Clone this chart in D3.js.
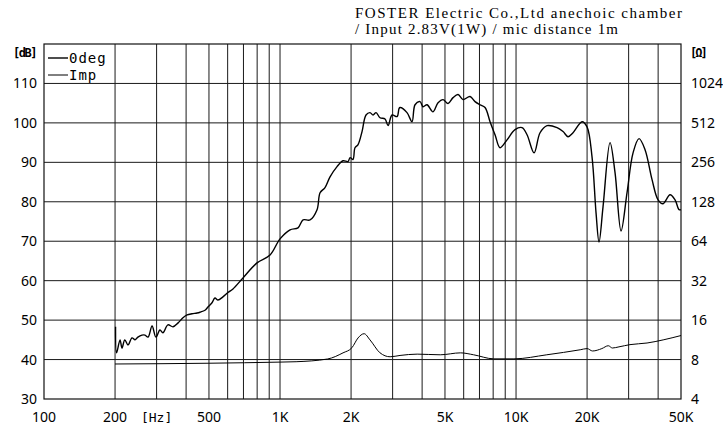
<!DOCTYPE html>
<html>
<head>
<meta charset="utf-8">
<script src="https://cdn.jsdelivr.net/npm/d3@7"></script>
<style>
  body { margin: 0; background: #fff; }
</style>
</head>
<body>
<div id="chart"></div>
<script>
// frequency response (0deg), Hz / dB
const respFreq = [201, 203, 210, 214, 220, 227, 236, 243, 250, 260, 268, 276, 287, 298, 310, 319, 335, 352, 370, 388, 404, 424, 445, 458, 481, 495, 515, 530, 546, 573, 602, 632, 697, 799, 907, 1000, 1103, 1192, 1252, 1340, 1435, 1478, 1551, 1629, 1744, 1849, 1941, 1981, 2038, 2078, 2141, 2226, 2314, 2406, 2479, 2552, 2653, 2786, 2869, 2983, 3132, 3193, 3225, 3452, 3625, 3733, 3920, 4036, 4197, 4448, 4672, 4906, 5151, 5409, 5679, 5963, 6385, 6704, 7039, 7391, 7760, 8147, 8555, 9160, 9903, 10603, 11134, 11923, 12641, 13537, 14922, 15822, 16612, 17441, 19044, 19990, 20989, 21827, 22474, 23366, 25019, 26272, 27858, 29537, 31319, 33204, 35207, 37699, 39970, 41973, 44930, 47179, 49059, 50000];
const respDb = [48.3, 41.7, 45, 42.9, 45, 43.7, 45.5, 45, 45.7, 46.2, 46.2, 45.7, 48.5, 45.7, 47.5, 46.8, 48.8, 48.3, 49.3, 50.6, 51.3, 51.6, 51.8, 52, 52.5, 53.3, 54.4, 55.6, 55.1, 55.9, 57, 57.9, 60.7, 64.5, 66.5, 70.6, 72.9, 73.4, 75.4, 75.4, 78, 82.3, 83.6, 86.3, 88.9, 90.4, 90.2, 91.2, 90.7, 93.7, 94.5, 97.8, 102, 102.6, 102, 102.6, 101.3, 101, 99.3, 102, 101.6, 103.6, 103.9, 102.6, 100.3, 104.6, 105.4, 104.1, 104.6, 102.8, 105.1, 105.9, 104.9, 106.4, 107.2, 105.9, 106.7, 105.4, 104.6, 103.9, 100.3, 97, 93.7, 95.7, 98.3, 98.8, 97, 92.4, 97.5, 99.3, 98.8, 97.8, 96.5, 97.5, 100.3, 99, 91.4, 77.2, 69.8, 78.7, 95, 87.4, 72.6, 82.3, 92.4, 96, 93.2, 85.6, 80.5, 79.5, 81.8, 80.5, 78, 78];

// impedance, Hz / ohm
const impFreq = [200, 500, 1000, 1170, 1590, 1849, 2017, 2141, 2271, 2406, 2653, 2926, 3225, 3812, 4774, 5819, 6610, 8046, 9800, 13500, 18700, 20000, 21100, 23100, 24600, 25600, 27300, 30400, 35900, 42000, 50000];
const impOhm = [7.4, 7.5, 7.65, 7.7, 8.08, 9.0, 9.85, 11.7, 12.6, 11.3, 9.0, 8.4, 8.6, 8.8, 8.7, 9.0, 8.7, 8.1, 8.1, 8.7, 9.5, 9.7, 9.3, 9.7, 10.2, 9.8, 10.0, 10.4, 10.7, 11.3, 12.2];

// axes ticks
const dbTicks = [30, 40, 50, 60, 70, 80, 90, 100, 110];
const ohmTicks = [4, 8, 16, 32, 64, 128, 256, 512, 1024];
const freqTicks = [100, 200, 500, 1000, 2000, 5000, 10000, 20000, 50000];
const freqLabels = ["100", "200", "500", "1K", "2K", "5K", "10K", "20K", "50K"];
const freqGrid = [200, 300, 400, 500, 600, 700, 800, 900, 1000, 2000, 3000, 4000, 5000, 6000, 7000, 8000, 9000, 10000, 20000, 30000, 40000];
const legendNames = ["0deg", "Imp"];

const width = 723, height = 426;
const plot = { left: 44, right: 681, top: 44, bottom: 399 };

const svg = d3
  .select("#chart")
  .append("svg")
  .attr("width", width)
  .attr("height", height);

const x = d3.scaleLog().domain([100, 50000]).range([plot.left, plot.right]);
const y = d3.scaleLinear().domain([30, 120]).range([plot.bottom, plot.top]);
const yR = d3.scaleLog().base(2).domain([4, 2048]).range([plot.bottom, plot.top]);

// grid
const grid = svg.append("g").attr("stroke", "#1a1a1a").attr("stroke-width", 1);
grid
  .append("g")
  .selectAll("line")
  .data(freqGrid)
  .join("line")
  .attr("x1", (d) => x(d))
  .attr("x2", (d) => x(d))
  .attr("y1", plot.top)
  .attr("y2", plot.bottom);
grid
  .append("g")
  .selectAll("line")
  .data(dbTicks.slice(1))
  .join("line")
  .attr("x1", plot.left)
  .attr("x2", plot.right)
  .attr("y1", (d) => y(d))
  .attr("y2", (d) => y(d));

// frame
svg
  .append("rect")
  .attr("x", plot.left)
  .attr("y", plot.top)
  .attr("width", plot.right - plot.left)
  .attr("height", plot.bottom - plot.top)
  .attr("fill", "none")
  .attr("stroke", "#111")
  .attr("stroke-width", 1.2);

const sans = "'Noto Sans', sans-serif";
const mono = "'DejaVu Sans Mono', monospace";

// left axis labels
svg
  .append("g")
  .selectAll("text")
  .data(dbTicks)
  .join("text")
  .attr("x", 37)
  .attr("y", (d) => y(d) + 5)
  .attr("text-anchor", "end")
  .attr("font-family", sans)
  .attr("font-size", 14)
  .text((d) => d);

// right axis labels
svg
  .append("g")
  .selectAll("text")
  .data(ohmTicks)
  .join("text")
  .attr("x", 691)
  .attr("y", (d) => yR(d) + 5)
  .attr("font-family", sans)
  .attr("font-size", 14)
  .text((d) => d);

// bottom axis labels
svg
  .append("g")
  .selectAll("text")
  .data(freqTicks)
  .join("text")
  .attr("x", (d) => x(d))
  .attr("y", 422)
  .attr("text-anchor", "middle")
  .attr("font-family", sans)
  .attr("font-size", 14)
  .text((d, i) => freqLabels[i]);

// unit labels
svg.append("text").attr("x", 36).attr("y", 57).attr("text-anchor", "end")
  .attr("font-family", mono).attr("font-size", 12).attr("font-weight", "bold")
  .attr("letter-spacing", -1.5).text("[dB]");
svg.append("text").attr("x", 690).attr("y", 57)
  .attr("font-family", mono).attr("font-size", 12).attr("font-weight", "bold")
  .attr("letter-spacing", -2).text("[Ω]");
svg.append("text").attr("x", x(300)).attr("y", 422).attr("text-anchor", "middle")
  .attr("font-family", mono).attr("font-size", 13).text("[Hz]");

// title
svg.append("text").attr("x", 355).attr("y", 18).attr("font-family", "'Liberation Serif', serif")
  .attr("font-size", 15).attr("textLength", 327).text("FOSTER Electric Co.,Ltd  anechoic chamber");
svg.append("text").attr("x", 355).attr("y", 34).attr("font-family", "'Liberation Serif', serif")
  .attr("font-size", 15).attr("textLength", 263).text("/ Input 2.83V(1W) / mic distance 1m");

// curves
const respLine = d3.line().curve(d3.curveCatmullRom.alpha(0.5))
  .x((d, i) => x(respFreq[i])).y((d) => y(d));
svg.append("path")
  .datum(respDb)
  .attr("d", respLine)
  .attr("fill", "none")
  .attr("stroke", "#000")
  .attr("stroke-width", 1.4);

const impLine = d3.line().curve(d3.curveMonotoneX)
  .x((d, i) => x(impFreq[i])).y((d) => yR(d));
svg.append("path")
  .datum(impOhm)
  .attr("d", impLine)
  .attr("fill", "none")
  .attr("stroke", "#000")
  .attr("stroke-width", 1);

// legend
const legend = svg.append("g").selectAll("g").data(legendNames).join("g")
  .attr("transform", (d, i) => `translate(0, ${58 + i * 17})`);
legend.append("line").attr("x1", 48).attr("x2", 68).attr("y1", 0).attr("y2", 0)
  .attr("stroke", "#000").attr("stroke-width", (d, i) => (i === 0 ? 1.4 : 1));
legend.append("text").attr("x", 69).attr("y", 5).attr("font-family", mono)
  .attr("font-size", 14).attr("letter-spacing", 1).text((d) => d);
</script>
</body>
</html>
